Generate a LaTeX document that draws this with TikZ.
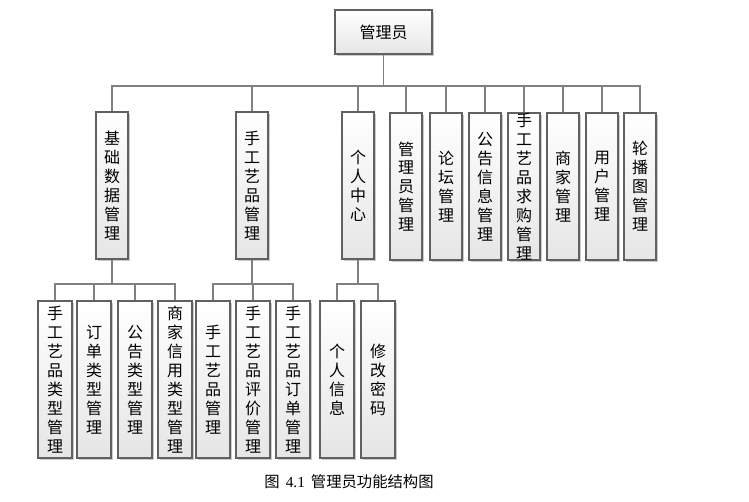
\documentclass[tikz,border=0pt]{standalone}
\usepackage{fontspec}
\setmainfont{Liberation Serif}
\newfontfamily\cjk{Noto Sans CJK SC}
\usetikzlibrary{shadows}

\begin{document}
\begin{tikzpicture}[x=0.75pt, y=-0.75pt,
  box/.style={draw=black!62, line width=0.8pt, top color=white, bottom color=black!10,
    drop shadow={shadow xshift=1.3pt, shadow yshift=-1.3pt, fill=black!40, opacity=0.5},
    inner sep=0pt, align=center, font=\cjk\fontsize{12}{14.2}\selectfont},
  topbox/.style={box, minimum width=72.75pt, minimum height=33pt},
  onebox/.style={box, text width=24pt, minimum height=110.25pt},
  twobox/.style={box, text width=25.5pt, minimum height=117.75pt},
  link/.style={draw=black!50, line width=0.8pt}]
\useasboundingbox[fill=white] (0,0) rectangle (749,502);
% Wurzel
\node[topbox] (root) at (383.5,32) {管理员};
% erste Ebene
\node[onebox] (jcsj) at (112,185.5) {基\\础\\数\\据\\管\\理};
\node[onebox] (sgyp) at (252,185.5) {手\\工\\艺\\品\\管\\理};
\node[onebox] (grzx) at (358,185.5) {个\\人\\中\\心};
\node[onebox] (glygl) at (406,186.5) {管\\理\\员\\管\\理};
\node[onebox] (ltgl) at (446,186.5) {论\\坛\\管\\理};
\node[onebox] (ggxx) at (485,186.5) {公\\告\\信\\息\\管\\理};
\node[onebox] (qggl) at (524,186.5) {手\\工\\艺\\品\\求\\购\\管\\理};
\node[onebox] (sjgl) at (563,186.5) {商\\家\\管\\理};
\node[onebox] (yhgl) at (602,186.5) {用\\户\\管\\理};
\node[onebox] (lbtgl) at (640,186.5) {轮\\播\\图\\管\\理};
% zweite Ebene
\node[twobox] (lxgl) at (55,379.5) {手\\工\\艺\\品\\类\\型\\管\\理};
\node[twobox] (ddlx) at (94,379.5) {订\\单\\类\\型\\管\\理};
\node[twobox] (gglx) at (135,379.5) {公\\告\\类\\型\\管\\理};
\node[twobox] (xylx) at (175,379.5) {商\\家\\信\\用\\类\\型\\管\\理};
\node[twobox] (sgypgl) at (213,379.5) {手\\工\\艺\\品\\管\\理};
\node[twobox] (pjgl) at (253,379.5) {手\\工\\艺\\品\\评\\价\\管\\理};
\node[twobox] (ddgl) at (293,379.5) {手\\工\\艺\\品\\订\\单\\管\\理};
\node[twobox] (grxx) at (337,379.5) {个\\人\\信\\息};
\node[twobox] (xgmm) at (378,379.5) {修\\改\\密\\码};
% Verbindungen
\coordinate (busA) at (0,86);
\coordinate (busB) at (0,284);
\foreach \n in {jcsj,sgyp,grzx,glygl,ltgl,ggxx,qggl,sjgl,yhgl,lbtgl}
  \draw[link] (root.south) -- (root.south |- busA) -| (\n.north);
\foreach \n in {lxgl,ddlx,gglx,xylx}
  \draw[link] (jcsj.south) -- (jcsj.south |- busB) -| (\n.north);
\foreach \n in {sgypgl,pjgl,ddgl}
  \draw[link] (sgyp.south) -- (sgyp.south |- busB) -| (\n.north);
\foreach \n in {grxx,xgmm}
  \draw[link] (grzx.south) -- (grzx.south |- busB) -| (\n.north);
% Bildunterschrift
\node[font=\cjk\fontsize{11.5}{14}\selectfont] (cap) at (349,482) {图\hspace{4.5pt}{\rmfamily 4.1}\hspace{4.5pt}管理员功能结构图};
\end{tikzpicture}
\end{document}
